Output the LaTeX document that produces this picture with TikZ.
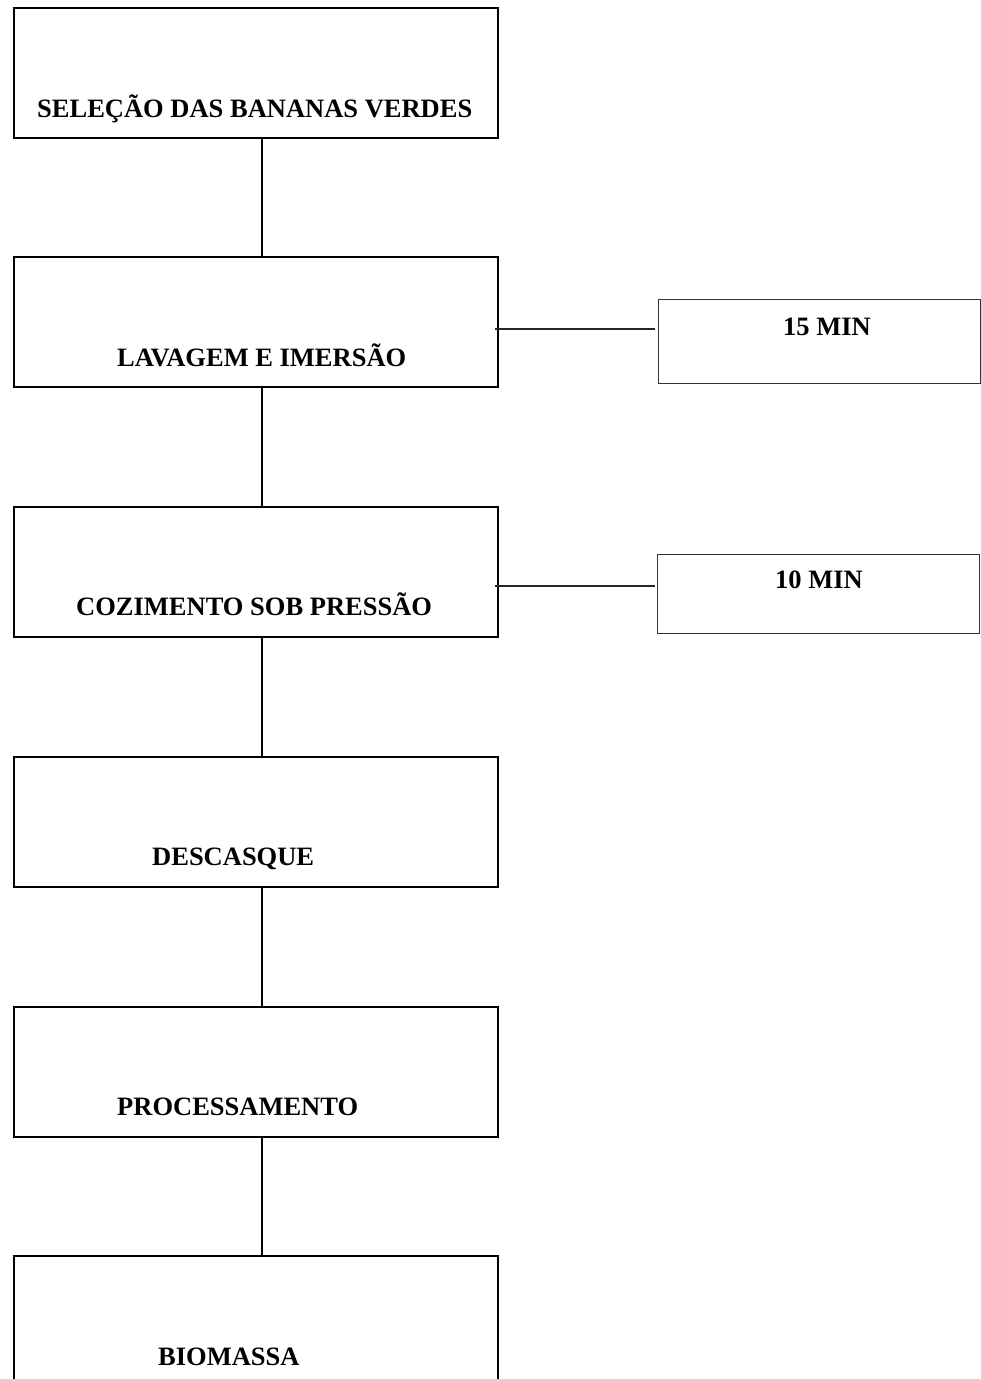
\documentclass[tikz,border=0pt]{standalone}
\usepackage{fontspec}
\setmainfont{Liberation Serif}
\begin{document}
\begin{tikzpicture}[x=1pt,y=-1pt,
  mainbox/.style={draw=black,line width=2pt,rectangle,inner sep=0pt,anchor=north west,minimum width=484pt,minimum height=130pt},
  sidebox/.style={draw=black!80,line width=1pt,rectangle,inner sep=0pt,anchor=north west},
  lbl/.style={anchor=base west,inner sep=0pt,font=\fontsize{26.5}{30}\selectfont\bfseries},
  vconn/.style={draw=black,line width=2pt},
  hconn/.style={draw=black!85,line width=1.6pt}]
\clip (0,0) rectangle (981,1379);
\fill[white] (0,0) rectangle (981,1379);
% main boxes
\node[mainbox] (b1) at (13,7) {};
\node[mainbox] (b2) at (13,256) {};
\node[mainbox] (b3) at (13,506) {};
\node[mainbox] (b4) at (13,756) {};
\node[mainbox] (b5) at (13,1006) {};
\node[mainbox] (b6) at (13,1255) {};
% side boxes
\node[sidebox,minimum width=322pt,minimum height=84pt] (m15) at (658,299) {};
\node[sidebox,minimum width=322pt,minimum height=79pt] (m10) at (657,554) {};
% labels
\node[lbl] (t1) at (37,117) {SELEÇÃO DAS BANANAS VERDES};
\node[lbl] (t2) at (117,366) {LAVAGEM E IMERSÃO};
\node[lbl] (t3) at (76,615) {COZIMENTO SOB PRESSÃO};
\node[lbl] (t4) at (152,865) {DESCASQUE};
\node[lbl] (t5) at (117,1115) {PROCESSAMENTO};
\node[lbl] (t6) at (158,1365) {BIOMASSA};
\node[lbl] (t15) at (783,335) {15 MIN};
\node[lbl] (t10) at (775,588) {10 MIN};
% vertical connectors
\draw[vconn] ([xshift=6pt]b1.south) -- ([xshift=6pt]b2.north);
\draw[vconn] ([xshift=6pt]b2.south) -- ([xshift=6pt]b3.north);
\draw[vconn] ([xshift=6pt]b3.south) -- ([xshift=6pt]b4.north);
\draw[vconn] ([xshift=6pt]b4.south) -- ([xshift=6pt]b5.north);
\draw[vconn] ([xshift=6pt]b5.south) -- ([xshift=6pt]b6.north);
% horizontal connectors
\coordinate (h1a) at (495,329);
\coordinate (h1b) at (655,329);
\coordinate (h2a) at (495,586);
\coordinate (h2b) at (655,586);
\draw[hconn] (h1a) -- (h1b);
\draw[hconn] (h2a) -- (h2b);
\end{tikzpicture}
\end{document}
